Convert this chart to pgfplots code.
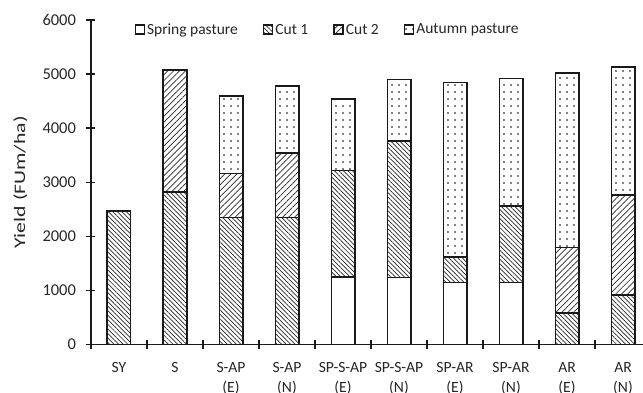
\documentclass[border=0pt]{standalone}
\usepackage{fontspec}
\setmainfont{Carlito}
\usepackage{pgfplots}
\pgfplotsset{compat=1.18}
\usetikzlibrary{patterns.meta}
\pgfplotstableread{
lab spring cut1 cut2 autumn total
0 0    2470 0    0    2470
1 0    2820 2250 0    5070
2 0    2345 820  1430 4595
3 0    2345 1195 1245 4785
4 1245 1975 0    1320 4540
5 1240 2520 0    1140 4900
6 1145 475  0    3225 4845
7 1145 1415 0    2360 4920
8 0    580  1210 3230 5020
9 0    915  1850 2370 5135
}\datatable
\pgfplotstableread{
lab y
1 2820
2 2345
2 3165
3 2345
3 3540
4 1245
4 3220
5 1240
5 3760
6 1145
6 1620
7 1145
7 2560
8 580
8 1790
9 915
9 2765
}\boundaries
\pgfplotsset{common/.style={
  scale only axis, width=560pt, height=324.5pt,
  xmin=-0.5, xmax=9.5, ymin=0, ymax=6000}}
\begin{document}
\begin{tikzpicture}
\begin{axis}[
  common,
  ybar stacked, bar width=23.4pt,
  axis lines=left,
  axis line style={-, line width=1.7pt, black!90},
  xtick={-0.5,0.5,...,9.5},
  x tick label as interval,
  xticklabels={SY,S,{S-AP\\(E)},{S-AP\\(N)},{SP-S-AP\\(E)},{SP-S-AP\\(N)},{SP-AR\\(E)},{SP-AR\\(N)},{AR\\(E)},{AR\\(N)}},
  x tick label style={align=center, font=\fontsize{15.6}{20.5}\selectfont, color=black!85, yshift=-9.5pt},
  ytick={0,1000,...,6000},
  y tick label style={font=\fontsize{16.5}{18}\selectfont, color=black!85, xshift=-7pt},
  /pgf/number format/assume math mode=true,
  yticklabel style={/pgf/number format/1000 sep={}},
  scaled y ticks=false,
  tick align=center,
  major tick length=9pt,
  tick style={line width=1.4pt, black!90},
  ylabel={\scalebox{1.36}[1]{Yield (FUm/ha)}},
  ylabel style={font=\fontsize{16}{18}\selectfont, color=black!85, at={(axis description cs:-0.1263,0.5)}, anchor=center},
  legend columns=-1,
  legend style={at={(axis description cs:0.072,0.97)}, anchor=west, draw=none, fill=none,
    font=\fontsize{15.5}{18}\selectfont, text=black!85,
    /tikz/every even column/.append style={column sep=23pt},
    /tikz/every odd column/.append style={column sep=0pt}},
  legend image code/.code={\draw[#1, draw=black!90, line width=1.5pt] (0pt,-4.5pt) rectangle (9pt,4.5pt);},
  every axis plot/.append style={draw=none},
]
\addplot[fill=white] table[x=lab, y=spring] {\datatable};
\addplot[pattern={Lines[angle=-45,distance=3.2pt,line width=0.7pt]}, pattern color=black!85] table[x=lab, y=cut1] {\datatable};
\addplot[pattern={Lines[angle=45,distance=4.2pt,line width=0.7pt]}, pattern color=black!85] table[x=lab, y=cut2] {\datatable};
\addplot[fill=white, postaction={pattern={Dots[distance=7pt,radius=0.9pt]}, pattern color=black}] table[x=lab, y=autumn] {\datatable};
\legend{Spring pasture, Cut 1, Cut 2, Autumn pasture}
\coordinate (SW) at (rel axis cs:0,0);
\end{axis}
\begin{axis}[
  common, hide axis,
  ybar, bar width=23.4pt, bar shift=0pt,
]
\addplot[draw=black!90, fill=none, line width=1.6pt] table[x=lab, y=total] {\datatable};
\addplot[only marks, mark=-, mark size=11.7pt, mark options={line width=1.6pt, draw=black!90}] table[x=lab, y=y] {\boundaries};
\end{axis}
\pgfresetboundingbox
\useasboundingbox ([shift={(-91pt,-48.5pt)}]SW) rectangle ([shift={(552pt,344.5pt)}]SW);
\end{tikzpicture}
\end{document}
